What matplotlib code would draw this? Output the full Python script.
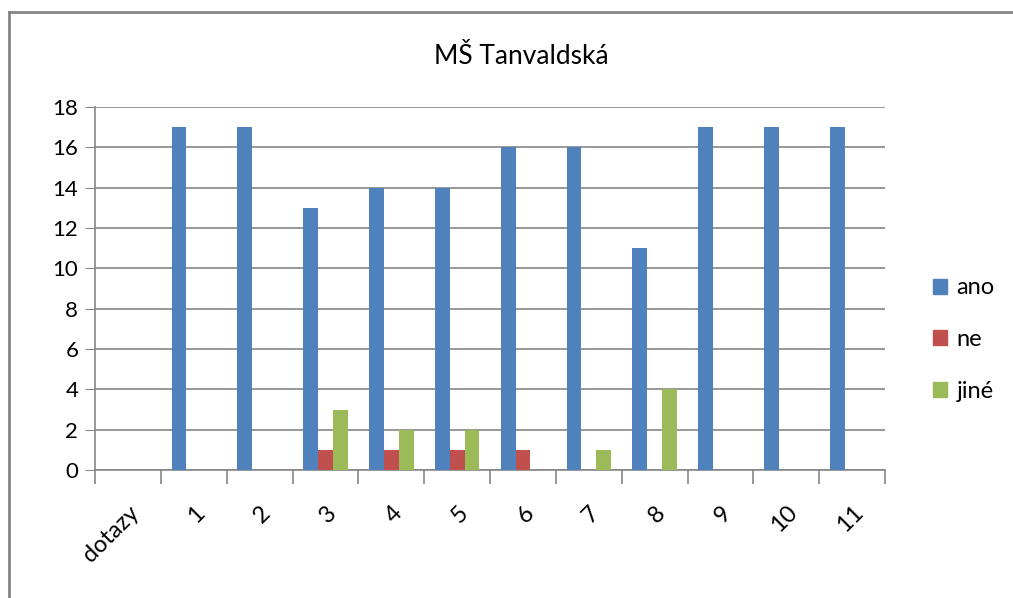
import numpy as np
import matplotlib.pyplot as plt
from matplotlib.lines import Line2D
from matplotlib.patches import Patch

plt.rcParams['font.family'] = ['Lato', 'DejaVu Sans']

categories = ['dotazy', '1', '2', '3', '4', '5', '6', '7', '8', '9', '10', '11']
ano = [0, 17, 17, 13, 14, 14, 16, 16, 11, 17, 17, 17]
ne = [0, 0, 0, 1, 1, 1, 1, 0, 0, 0, 0, 0]
jine = [0, 0, 0, 3, 2, 2, 0, 1, 4, 0, 0, 0]
series_names = ['ano', 'ne', 'jiné']
colors = ['#4F81BD', '#C0504D', '#9BBB59']

fig = plt.figure(figsize=(10.13, 5.98), dpi=100)
ax = fig.add_axes([0.0938, 0.214, 0.7799, 0.607])

x = np.arange(len(categories))
w = 0.225
for i, (vals, c) in enumerate(zip([ano, ne, jine], colors)):
    ax.bar(x + (i - 1) * w, vals, width=w, color=c, zorder=3)

ax.set_xlim(-0.5, len(categories) - 0.5)
ax.set_ylim(0, 18)
ax.set_yticks(range(0, 19, 2))
ax.yaxis.grid(True, color='#868686', linewidth=1.2, zorder=0)
ax.tick_params(axis='y', labelsize=16, length=7, color='#868686', pad=5)

# category ticks sit between groups, labels at centres
ax.set_xticks(np.arange(len(categories) + 1) - 0.5)
ax.set_xticklabels([])
ax.set_xticks(x, minor=True)
ax.set_xticklabels(categories, minor=True, rotation=45, ha='right',
                   rotation_mode='anchor', fontsize=17)
ax.tick_params(axis='x', which='minor', length=0, pad=23)
ax.tick_params(axis='x', which='major', length=10, color='#868686', width=1.2)

for s in ['top', 'right']:
    ax.spines[s].set_visible(False)
for s in ['left', 'bottom']:
    ax.spines[s].set_color('#868686')
    ax.spines[s].set_linewidth(1.2)

fig.text(0.515, 0.905, 'MŠ Tanvaldská', ha='center', va='center', fontsize=19)

handles = [Patch(color=c, label=n) for c, n in zip(colors, series_names)]
fig.legend(handles=handles, loc='center left', bbox_to_anchor=(0.9, 0.432),
           frameon=False, fontsize=17, handlelength=0.6, handleheight=0.6,
           labelspacing=1.3, handletextpad=0.4)

# outer chart frame (left and top edges visible)
fig.add_artist(Line2D([0.009, 0.009], [0, 0.98], transform=fig.transFigure,
                      color='#868686', linewidth=2))
fig.add_artist(Line2D([0.009, 1], [0.98, 0.98], transform=fig.transFigure,
                      color='#868686', linewidth=2))

plt.savefig('out.png', dpi=100)
